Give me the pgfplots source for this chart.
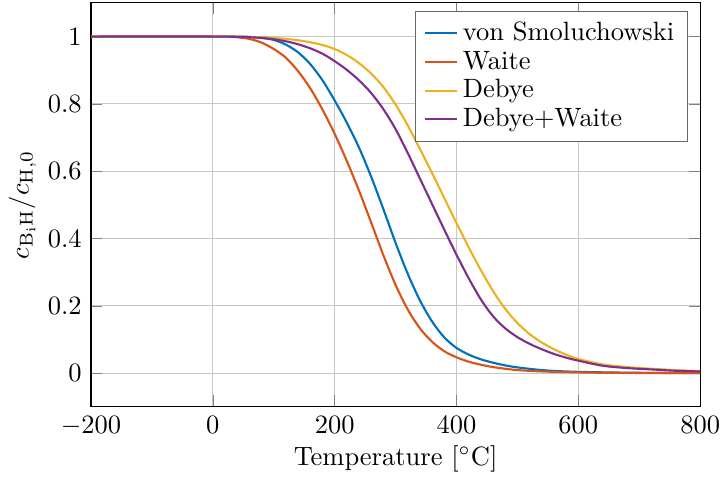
\documentclass[border=0pt]{standalone}
\usepackage{pgfplots}
\pgfplotsset{compat=1.18}
\definecolor{c1}{rgb}{0,0.447,0.741}
\definecolor{c2}{rgb}{0.85,0.325,0.098}
\definecolor{c3}{rgb}{0.929,0.694,0.125}
\definecolor{c4}{rgb}{0.494,0.184,0.556}
\begin{document}
\begin{tikzpicture}
\begin{axis}[
  scale only axis,
  width=230pt, height=152.5pt,
  xmin=-200, xmax=800, ymin=-0.1, ymax=1.1,
  xtick={-200,0,200,400,600,800},
  ytick={0,0.2,0.4,0.6,0.8,1},
  xmajorgrids, ymajorgrids,
  grid style={line width=0.4pt, black!22},
  xlabel={Temperature [$^\circ$C]},
  ylabel={$c_{\mathrm{B_iH}}/c_{\mathrm{H,0}}$},
  xlabel style={yshift=3pt},
  ylabel style={yshift=-2.5pt},
  xticklabel style={inner xsep=0pt},
  legend style={legend cell align=left, align=left, draw=black!60, at={(0.98,0.98)}, anchor=north east, row sep=-1.6pt},
  legend image code/.code={\draw[#1] (0cm,0cm) -- (0.42cm,0cm);},
  every axis plot/.append style={line width=0.8pt, smooth},
  after end axis/.code={\path (rel axis cs:0.5,1) ++(0,1.1pt);},
]
\addplot[c1] coordinates {
(-200,1) (0,1) (40,1) (60,0.999) (80,0.996) (100,0.99) (120,0.976) (140,0.953) (160,0.918) (180,0.87) (200,0.81) (220,0.744) (240,0.670) (260,0.583) (280,0.487) (300,0.387) (320,0.295) (340,0.216) (360,0.153) (380,0.106) (400,0.075) (420,0.055) (440,0.041) (460,0.031) (480,0.023) (500,0.017) (540,0.009) (580,0.005) (620,0.003) (700,0.001) (800,0)
};
\addlegendentry{von Smoluchowski}
\addplot[c2] coordinates {
(-200,1) (0,1) (20,1) (40,0.998) (60,0.993) (80,0.982) (100,0.963) (120,0.937) (140,0.897) (160,0.846) (180,0.783) (200,0.711) (220,0.63) (240,0.542) (260,0.447) (280,0.35) (300,0.262) (320,0.189) (340,0.133) (360,0.093) (380,0.065) (400,0.047) (420,0.034) (440,0.025) (460,0.018) (480,0.013) (500,0.009) (540,0.005) (580,0.003) (620,0.0015) (700,0.0005) (800,0)
};
\addlegendentry{Waite}
\addplot[c3] coordinates {
(-200,1) (0,1) (40,1) (60,0.999) (80,0.998) (100,0.996) (120,0.993) (140,0.989) (160,0.983) (180,0.975) (200,0.963) (220,0.945) (240,0.921) (260,0.89) (280,0.85) (300,0.798) (320,0.736) (340,0.666) (360,0.594) (380,0.52) (400,0.446) (420,0.374) (440,0.306) (460,0.244) (480,0.191) (500,0.149) (520,0.116) (540,0.091) (560,0.071) (580,0.055) (600,0.042) (640,0.026) (680,0.018) (720,0.013) (760,0.009) (800,0.006)
};
\addlegendentry{Debye}
\addplot[c4] coordinates {
(-200,1) (0,1) (40,0.999) (60,0.998) (80,0.996) (100,0.992) (120,0.986) (140,0.977) (160,0.965) (180,0.949) (200,0.927) (220,0.901) (240,0.87) (260,0.832) (280,0.784) (300,0.725) (320,0.654) (340,0.578) (360,0.502) (380,0.426) (400,0.352) (420,0.282) (440,0.219) (460,0.169) (480,0.133) (500,0.107) (520,0.087) (540,0.071) (560,0.057) (580,0.046) (600,0.037) (640,0.022) (680,0.015) (720,0.011) (760,0.007) (800,0.005)
};
\addlegendentry{Debye+Waite}
\end{axis}
\end{tikzpicture}
\end{document}
